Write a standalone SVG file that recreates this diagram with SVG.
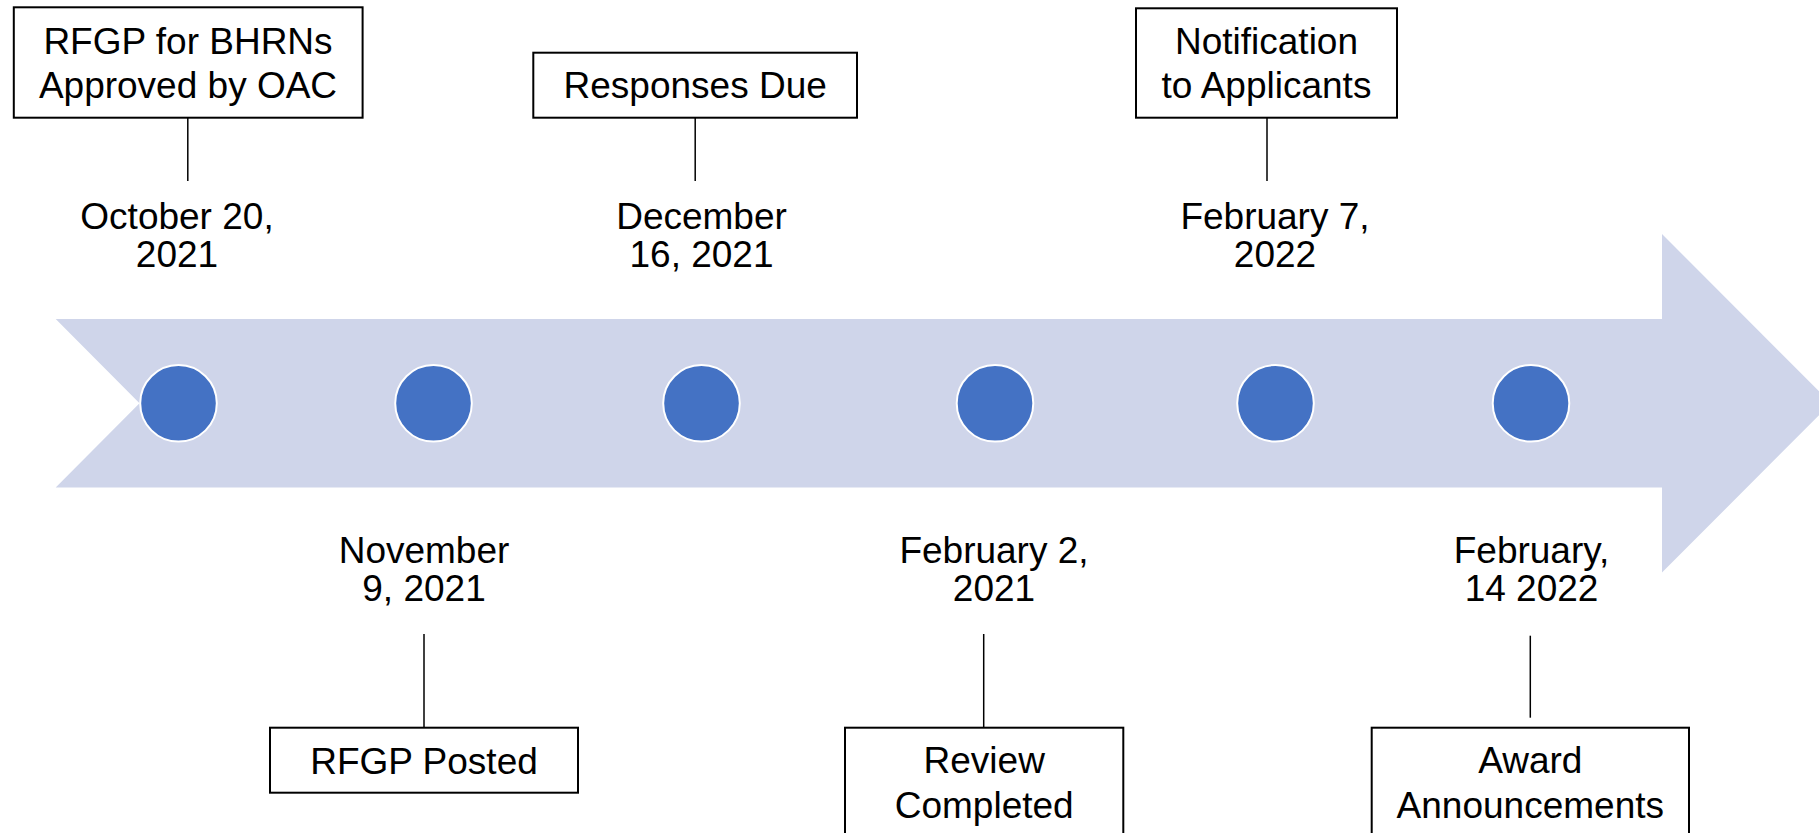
<svg xmlns="http://www.w3.org/2000/svg" width="1819" height="833" viewBox="0 0 1819 833">
  <style>
    .box { fill: #ffffff; stroke: #000000; stroke-width: 2; }
    .lbl { font-family: "Liberation Sans", Arial, sans-serif; font-size: 37px; fill: #000000; text-anchor: middle; }
    .dot { fill: #4472C4; stroke: #ffffff; stroke-width: 2; }
    .conn { stroke: #000000; stroke-width: 1.5; fill: none; }
  </style>
  <rect width="1819" height="833" fill="#ffffff"/>

  <g id="timeline-arrow">
    <polygon points="55.7,319 1662,319 1662,234 1831,403.3 1662,572.5 1662,487.5 55.7,487.5 139.5,403.3" fill="#CFD5EA"/>
  </g>

  <g id="milestones">
    <circle class="dot" cx="178.5" cy="403.3" r="38.3"/>
    <circle class="dot" cx="433.5" cy="403.3" r="38.3"/>
    <circle class="dot" cx="701.5" cy="403.3" r="38.3"/>
    <circle class="dot" cx="995" cy="403.3" r="38.3"/>
    <circle class="dot" cx="1275.5" cy="403.3" r="38.3"/>
    <circle class="dot" cx="1531" cy="403.3" r="38.3"/>
  </g>

  <g id="connectors">
    <line class="conn" x1="187.8" y1="118" x2="187.8" y2="181"/>
    <line class="conn" x1="695.2" y1="118" x2="695.2" y2="181"/>
    <line class="conn" x1="1267" y1="118" x2="1267" y2="181"/>
    <line class="conn" x1="424" y1="634" x2="424" y2="727.7"/>
    <line class="conn" x1="983.7" y1="634" x2="983.7" y2="727.7"/>
    <line class="conn" x1="1530.3" y1="635.7" x2="1530.3" y2="717.7"/>
  </g>

  <g id="node-approved">
    <rect class="box" x="13.8" y="7.3" width="348.8" height="110.4"/>
    <text class="lbl" x="188" y="54">RFGP for BHRNs</text>
    <text class="lbl" x="188" y="98.3">Approved by OAC</text>
  </g>
  <g id="date-oct20">
    <text class="lbl" x="177" y="229.3">October 20,</text>
    <text class="lbl" x="177" y="266.8">2021</text>
  </g>

  <g id="node-responses">
    <rect class="box" x="533.3" y="52.7" width="323.7" height="65"/>
    <text class="lbl" x="695.2" y="98.3">Responses Due</text>
  </g>
  <g id="date-dec16">
    <text class="lbl" x="701.5" y="229.3">December</text>
    <text class="lbl" x="701.5" y="266.8">16, 2021</text>
  </g>

  <g id="node-notification">
    <rect class="box" x="1136" y="8.3" width="261" height="109.4"/>
    <text class="lbl" x="1266.5" y="54">Notification</text>
    <text class="lbl" x="1266.5" y="98.3">to Applicants</text>
  </g>
  <g id="date-feb7">
    <text class="lbl" x="1275" y="229.3">February 7,</text>
    <text class="lbl" x="1275" y="266.8">2022</text>
  </g>

  <g id="date-nov9">
    <text class="lbl" x="424" y="563.3">November</text>
    <text class="lbl" x="424" y="601">9, 2021</text>
  </g>
  <g id="node-posted">
    <rect class="box" x="270" y="727.7" width="308" height="65"/>
    <text class="lbl" x="424" y="774">RFGP Posted</text>
  </g>

  <g id="date-feb2">
    <text class="lbl" x="994" y="563.3">February 2,</text>
    <text class="lbl" x="994" y="601">2021</text>
  </g>
  <g id="node-review">
    <rect class="box" x="845" y="727.7" width="278.3" height="120"/>
    <text class="lbl" x="984.2" y="773.3">Review</text>
    <text class="lbl" x="984.2" y="817.7">Completed</text>
  </g>

  <g id="date-feb14">
    <text class="lbl" x="1531.5" y="563.3">February,</text>
    <text class="lbl" x="1531.5" y="601">14 2022</text>
  </g>
  <g id="node-award">
    <rect class="box" x="1371.7" y="727.7" width="317.3" height="120"/>
    <text class="lbl" x="1530.3" y="773.3">Award</text>
    <text class="lbl" x="1530.3" y="817.7">Announcements</text>
  </g>
</svg>
